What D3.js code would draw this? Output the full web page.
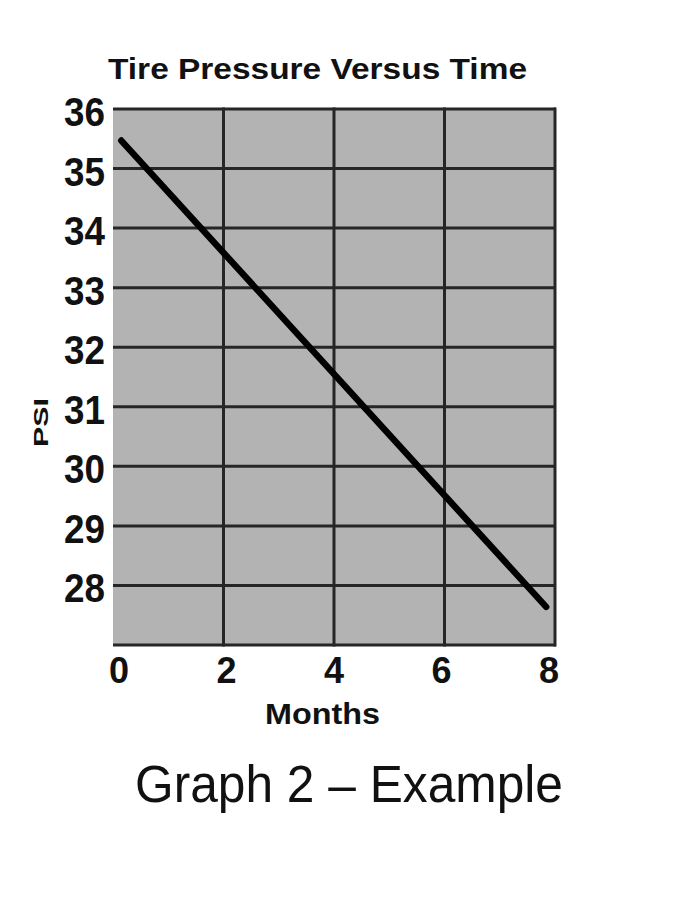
<!DOCTYPE html>
<html>
<head>
<meta charset="utf-8">
<script src="https://cdn.jsdelivr.net/npm/d3@7"></script>
<style>
  html, body { margin: 0; padding: 0; background: #fff; }
  svg { display: block; }
  text { font-family: "Liberation Sans", Arial, Helvetica, sans-serif; fill: #111; }
</style>
</head>
<body>
<svg id="chart" width="685" height="905"></svg>
<script>
// ---- data ----
const titleText = "Tire Pressure Versus Time";
const xLabelText = "Months";
const yLabelText = "PSI";
const captionText = "Graph 2 \u2013 Example";
const xTicks = [0, 2, 4, 6, 8];
const yTicks = [28, 29, 30, 31, 32, 33, 34, 35, 36];
const xDomain = [0, 8];
const yDomain = [27, 36];
const months = [0.15, 7.84];
const psi = [35.47, 27.64];

// ---- layout ----
const svg = d3.select("#chart");
const x = d3.scaleLinear().domain(xDomain).range([113, 555]);
const y = d3.scaleLinear().domain(yDomain).range([645, 109]);
const xLab = x.copy().range([119, 549]);
const gridColor = "#262626";

// plot background
svg.append("rect")
  .attr("x", x(xDomain[0])).attr("y", y(yDomain[1]))
  .attr("width", x(xDomain[1]) - x(xDomain[0]))
  .attr("height", y(yDomain[0]) - y(yDomain[1]))
  .attr("fill", "#b3b3b3");

// horizontal grid lines (including top at 36 and bottom at 27)
svg.append("g").selectAll("line")
  .data(yTicks.concat([yDomain[0]]))
  .join("line")
  .attr("x1", x(xDomain[0])).attr("x2", x(xDomain[1]) + 1)
  .attr("y1", d => y(d)).attr("y2", d => y(d))
  .attr("stroke", gridColor).attr("stroke-width", 3);

// vertical grid lines (interior + right edge)
svg.append("g").selectAll("line")
  .data(xTicks.filter(d => d > 0))
  .join("line")
  .attr("x1", d => x(d)).attr("x2", d => x(d))
  .attr("y1", y(yDomain[1]) - 1.5).attr("y2", y(yDomain[0]) + 1.5)
  .attr("stroke", gridColor).attr("stroke-width", 3);

// data line
const pts = months.map((m, i) => [m, psi[i]]);
svg.append("path")
  .datum(pts)
  .attr("d", d3.line().x(d => x(d[0])).y(d => y(d[1])))
  .attr("fill", "none")
  .attr("stroke", "#000")
  .attr("stroke-width", 6.5)
  .attr("stroke-linecap", "round");

// y tick labels
svg.append("g").selectAll("text")
  .data(yTicks)
  .join("text")
  .attr("x", 105)
  .attr("y", d => y(d) + 17)
  .attr("text-anchor", "end")
  .attr("font-size", 40)
  .attr("font-weight", "bold")
  .attr("textLength", 41)
  .attr("lengthAdjust", "spacingAndGlyphs")
  .text(d => d);

// x tick labels
svg.append("g").selectAll("text")
  .data(xTicks)
  .join("text")
  .attr("x", d => xLab(d))
  .attr("y", 683)
  .attr("text-anchor", "middle")
  .attr("font-size", 36)
  .attr("font-weight", "bold")
  .text(d => d);

// title
svg.append("text")
  .attr("x", 108).attr("y", 79)
  .attr("font-size", 29).attr("font-weight", "bold")
  .attr("textLength", 419).attr("lengthAdjust", "spacingAndGlyphs")
  .text(titleText);

// x axis label
svg.append("text")
  .attr("x", 265).attr("y", 724)
  .attr("font-size", 29).attr("font-weight", "bold")
  .attr("textLength", 115).attr("lengthAdjust", "spacingAndGlyphs")
  .text(xLabelText);

// y axis label
svg.append("text")
  .attr("transform", "translate(48,447) rotate(-90)")
  .attr("font-size", 21).attr("font-weight", "bold")
  .attr("textLength", 49).attr("lengthAdjust", "spacingAndGlyphs")
  .text(yLabelText);

// caption
svg.append("text")
  .attr("x", 135).attr("y", 802)
  .attr("font-size", 51)
  .attr("textLength", 428).attr("lengthAdjust", "spacingAndGlyphs")
  .text(captionText);
</script>
</body>
</html>
